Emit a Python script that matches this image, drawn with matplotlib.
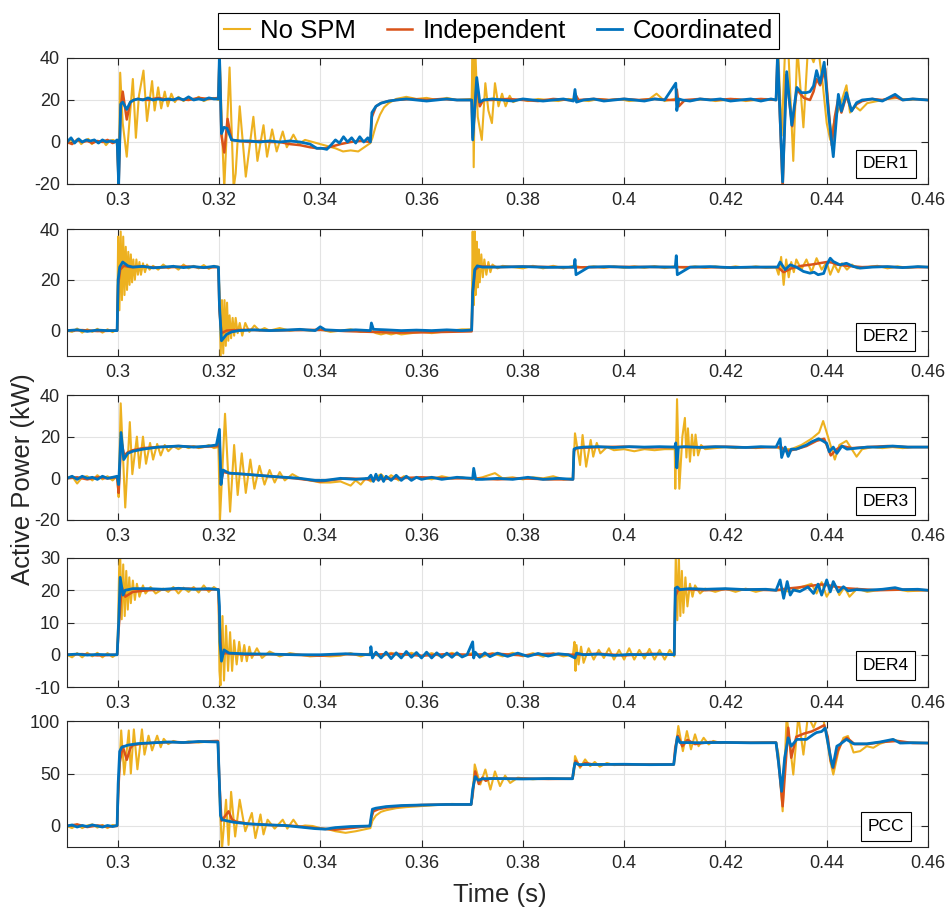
import numpy as np
import matplotlib.pyplot as plt

plt.rcParams['font.family'] = ['Liberation Sans', 'DejaVu Sans']
plt.rcParams['axes.unicode_minus'] = False

# ---- time in ms, power in kW ----

# DER1
der1_nospm_t = [290, 290.7, 291.4, 292.1, 292.8, 293.5, 294.2, 294.9, 295.6, 296.3, 297.0, 297.7, 298.4, 299.1, 299.8,
                300.0, 300.2, 300.5, 301.0, 301.8, 302.4, 303.0, 303.6, 304.2, 305.1, 305.8, 306.8, 307.3, 308.0, 308.6, 309.3, 309.9, 310.6, 311.3, 312.0,
                313, 314, 315, 316, 317, 318, 319, 319.9,
                320.1, 320.6, 321.05, 322.1, 322.9, 323.3, 324.1, 325.3, 326.8, 327.6, 328.8, 329.5, 330.5, 331.4, 332.6, 333.4, 334.7, 335.7,
                337, 338.5, 340, 341.5, 343, 344.5, 346, 347.5, 349, 349.9,
                350.3, 351.0, 351.8, 352.6, 353.5, 355, 357, 359, 361, 363, 365, 367, 369.9,
                370.1, 370.3, 370.6, 371.1, 371.9, 372.6, 373.2, 373.9, 374.5, 375.2, 375.9, 376.6, 377.4, 378.1,
                379.5, 381, 383, 385, 387, 389, 391, 393, 395, 397, 399, 401, 403, 405, 406.4, 408, 410, 412, 414, 416, 418, 420, 422, 424, 426, 428, 430.0,
                430.4, 431.1, 431.8, 432.4, 433.4, 434.2, 435.4, 436.3, 437.4, 438.3, 439.2, 440.0, 440.7, 441.6, 442.6, 443.9, 444.6, 445.6, 446.6,
                448, 450, 452, 454, 456, 458, 460]
der1_nospm = [-1, 1, -0.5, 1.5, -1, 0.5, 1.5, -1, 0.5, -0.5, 1, -1.5, 0.5, 1, 0,
              -5, -22, 33, 9, -7, 12, 30, 2, 22, 34, 10, 29, 15, 26, 16, 24, 17, 23, 19, 21.5,
              19.5, 21, 20, 21.5, 19.5, 20.5, 21, 20,
              45, 5, -22, 35.5, -22, -15, 17, -16.5, 12, -9, 8, -7, 6, -4.5, 5, -2.5, 3.5, -1,
              1, 0, -1, -2, -3, -4.5, -4, -4.5, -2, -0.5,
              2, 8, 13, 16.5, 18.5, 20.5, 21.5, 20.5, 21, 20, 21, 20, 20.5,
              45, -12, 45, 12, 1, 28, 15, 9, 28, 17, 23, 17, 22, 19,
              20.5, 19.5, 20.5, 20, 19.5, 20.5, 20, 19.5, 20.5, 20, 20.5, 19.5, 20, 20.5, 23, 19.5, 20.5, 19.5, 20, 20.5, 19.5, 20, 20.5, 19.5, 20, 20.5, 20,
              45, 3, 45, 45, -9, 45, 7, 45, 38, 45, 28, 9, 1, 11, 17, 27, 14, 17, 15,
              18.5, 19.5, 20.5, 21, 20, 20.5, 20]
der1_indep_t = [290, 291, 292, 293, 294, 295, 296, 297, 298, 299, 299.9,
                300.2, 300.6, 301.0, 301.8, 302.5, 303.2, 304, 306, 308, 310, 312, 314, 316, 318, 319.9,
                320.1, 320.5, 321.05, 321.7, 322.5, 324, 326, 328, 330, 332, 334, 336, 338, 339.5, 341, 342.5, 344, 346, 348, 349.9,
                350.2, 351, 352, 353.5, 355, 358, 361, 364, 367, 369.9,
                370.1, 370.9, 371.5, 372.2, 374, 377, 380, 383, 386, 389, 390.1, 390.3, 391, 394, 397, 400, 403, 406, 409, 410.2, 410.4, 410.8, 412, 415, 418, 421, 424, 427, 430.0,
                430.3, 431.3, 432.0, 433.2, 434.1, 435.5, 436.7, 437.4, 438.0, 438.7, 439.7, 440.3, 441.0, 441.6, 442.3, 442.9, 443.9, 444.9, 445.9,
                447, 449, 451, 453.5, 455, 457, 460]
der1_indep = [0, -1, 1, 0, 0.5, -0.5, 0.5, 0, 1, -0.5, 0.5,
              -20, 16, 24, 10.7, 19, 20, 20.5, 20, 21, 20, 20.5, 20, 21, 20.5, 21,
              40, 3, -5, 11, 1, 0.5, 0, 0.5, 0, 0, -1, -1.5, -2.5, -3, -3, -2, -1, 0, 0.5, 0,
              12, 17, 18.5, 19.5, 20, 20.5, 20, 20.5, 20, 20,
              2, 28, 17, 20, 20, 20.5, 20, 19.5, 20.5, 20, 20, 23, 20, 20.5, 20, 20.5, 20, 20.5, 20, 20, 25, 17, 20, 20.5, 20, 20.5, 20, 20.5, 20,
              42, -22, 32, 7.5, 25, 21, 20, 24, 30, 27, 35, 18, -1.5, 12, 21, 14, 22, 15, 18,
              19.5, 20.5, 20, 21.5, 20, 20.5, 20]
der1_coord_t = [290, 290.8, 291.5, 292.3, 293, 293.8, 294.6, 295.4, 296.2, 297, 297.8, 298.6, 299.4, 299.9,
                300.2, 300.6, 301.0, 301.8, 302.5, 303.2, 304, 305, 306, 307, 308, 309, 310, 311, 312, 313, 314, 315, 316, 317, 318, 319, 319.9,
                320.1, 320.5, 321.0, 321.6, 322.5, 324, 326, 328, 330, 332, 334, 336, 338, 339.3, 340.3, 341.3, 342.3, 343, 343.8, 344.6, 345.4, 346.2, 347, 347.8, 348.6, 349.4, 349.9,
                350.2, 351, 352, 353.5, 355, 357, 359, 361, 363, 365, 367, 369.9,
                370.1, 370.9, 371.5, 372.2, 374, 376, 378, 380, 382, 384, 386, 388, 390.0, 390.3, 390.6, 392, 394, 396, 398, 400,
                402, 404, 406, 408, 410.2, 410.4, 410.8, 411.5, 413, 415, 417, 419, 421, 423, 425, 427, 429, 430.0,
                430.3, 431.3, 432.1, 433.1, 434.1, 435.0, 436.0, 436.7, 437.4, 438.0, 438.7, 439.5, 440.3, 441.3, 442.3, 442.9, 443.9, 444.9, 445.9,
                447, 449, 451, 453.5, 455, 457, 460]
der1_coord = [0, 2, -0.5, 1.5, 0, 1, 0.5, 1, -0.5, 1, 0, 0.5, 0, 1,
              -20, 18, 19, 15.5, 19, 20, 20.5, 20, 21, 20, 20.5, 20, 20.5, 20, 21, 20, 21.5, 20, 20.5, 20, 21, 20.5, 20.5,
              42, 4, 7, 6.5, 1, 0.5, 0.5, 0, 0.5, 0, 0.5, 0, -1, -3, -3, -3.5, -1, 1, -0.5, 2.5, 0, 2, -0.5, 2.5, 0, 2, 0,
              14, 17, 18.5, 19.5, 20, 20.5, 20, 19.5, 20, 20.5, 20, 20,
              1, 30.7, 19, 20, 20.5, 20, 19.5, 20.5, 20, 19.5, 20, 20.5, 19.5, 25, 19, 20, 20.5, 19.5, 20, 20.5,
              20, 19.5, 20.5, 20, 28, 15, 20.5, 20, 19.5, 20.5, 20, 20.5, 19.5, 20, 20.5, 19.5, 20.5, 20,
              42, -19, 33.5, 8, 26, 23.5, 23.5, 24, 26.7, 34, 28, 38, 15, -7, 22.7, 14.7, 23.5, 14.7, 18.7,
              20, 20.5, 19.5, 22.7, 20, 20.5, 20]

# DER2
der2_nospm_t = [290, 291, 292, 293, 294, 295, 296, 297, 298, 299, 299.9,
                300.1, 300.35, 300.6, 300.85, 301.1, 301.35, 301.6, 301.85, 302.1, 302.35, 302.6, 302.85, 303.1, 303.4, 303.7, 304.0, 304.3, 304.6, 305.0, 305.4, 305.8, 306.3,
                307, 308, 309, 310, 311, 312, 313, 314, 315, 316, 317, 318, 319, 319.9,
                320.1, 320.35, 320.6, 320.85, 321.1, 321.35, 321.6, 321.85, 322.1, 322.4, 322.7, 323.0, 323.3, 323.7, 324.1, 324.6, 325.2, 326, 327, 328,
                329, 330, 332, 334, 336, 338, 340, 342, 344, 346, 348, 350, 351, 352, 353, 354, 355, 356, 358, 360, 362, 364, 366, 368, 369.9,
                370.1, 370.3, 370.5, 370.7, 370.9, 371.1, 371.3, 371.5, 371.8, 372.1, 372.4, 372.8, 373.2, 373.6, 374, 375, 376,
                378, 380, 382, 384, 386, 388, 390, 392, 394, 396, 398, 400, 402, 404, 406, 408, 410, 412, 414, 416, 418, 420, 422, 424, 426, 428, 430,
                430.5, 431.0, 431.5, 432, 432.5, 433, 433.5, 434, 435, 436, 437, 438, 439, 440, 440.7, 441.5, 442.3, 443, 444, 445, 446, 448, 450, 452, 454, 456, 458, 460]
der2_nospm = [0, -0.5, 0.8, -0.8, 0.5, -0.5, 0.7, -0.8, 0.5, -0.6, 0.5,
              37, 8, 39, 12, 37, 14, 33, 16, 31, 18, 30, 19, 28, 20, 28, 22, 27, 22, 26.5, 23, 26, 24,
              25.5, 24, 26, 24.5, 25.5, 24, 26, 24.5, 25.5, 24.5, 25.8, 24.3, 25.5, 25,
              15, -10, 12, -9, 12, -6, 11, -4, 6, -3, 5, -2, 5, -1, 3, -2, 3, -0.5, 2, 0,
              1, 0, 1, 0, 0.5, 0, 0.5, -0.5, 0, 0.5, -0.5, 0, -1, -1.5, -1, -1.5, -1, -1.5, -1, -0.5, -1, -0.5, 0, 0.5, 0.5,
              39, 10, 39, 14, 35, 17, 32, 19, 30, 21, 28, 22, 27, 23, 26, 24.5, 25.5,
              25, 24.5, 25.5, 24.5, 25.5, 24.5, 25.5, 24.8, 25.3, 24.7, 25.3, 24.7, 25.3, 24.7, 25.4, 24.6, 25.3, 24.7, 25.3, 24.7, 25.3, 24.7, 25.3, 24.7, 25.3, 24.7, 25,
              22, 29, 18, 28, 21, 27, 23, 28, 24, 28, 23, 28.5, 24, 27, 22, 26, 23, 26.5, 24, 26, 24.5, 25, 25.5, 24.5, 25.3, 24.7, 25.2, 25]
der2_indep_t = [290, 293, 296, 299.9, 300.1, 300.5, 301.2, 302.5, 305, 308, 311, 314, 317, 319.9,
                320.1, 320.5, 321.5, 323, 326, 330, 335, 340, 345, 350, 355, 360, 365, 369.9,
                370.1, 370.6, 371.5, 375, 380, 390, 400, 410, 420, 430.3,
                431.5, 433, 435, 437, 438.5, 440, 441, 442, 444, 447, 450, 455, 460]
der2_indep = [0, 0.2, -0.2, 0, 18, 24, 25.5, 25, 25.2, 24.8, 25, 25.2, 24.8, 25,
              8, -1, 0, 0.2, 0.3, 0, 0.2, 0.3, -0.2, -0.5, -0.8, -0.7, -0.5, -0.3,
              15, 24, 25.3, 25, 25.2, 24.9, 25.1, 25, 24.9, 25,
              23, 24.5, 25.5, 26, 26.5, 27, 26.8, 26, 25.5, 25, 25.2, 24.9, 25]
der2_coord_t = [290, 292, 294, 296, 298, 299.9,
                300.1, 300.4, 301.0, 302, 303, 305, 307, 309, 311, 313, 315, 317, 319, 319.9,
                320.1, 320.5, 321.5, 322.5, 324, 327, 330, 333, 336, 339, 340, 341, 344, 347, 349.9,
                350.1, 350.5, 353, 356, 359, 362, 365, 368, 369.9,
                370.1, 370.5, 371.0, 372, 375, 380, 385, 390.1, 390.3, 390.5, 393, 397, 401, 405, 410.1, 410.3, 410.5, 413, 417, 421, 425, 429,
                430.3, 430.8, 431.8, 432.8, 434, 435.4, 436.7, 437.5, 438.3, 439.4, 440.0, 440.7, 441.3, 442.6, 443.9, 445.3, 446.6, 449, 452, 455, 458, 460]
der2_coord = [0, 0.3, -0.3, 0.2, 0, 0,
              20, 25, 27, 25.5, 25, 25.3, 24.7, 25, 25.3, 24.8, 25.2, 24.8, 25.3, 25,
              10, -4, -1.5, -0.5, 0, 0.3, 0, 0.2, 0.5, 0, 1.5, 0.3, 0, 0.3, 0,
              3, 0.5, 0.3, 0, 0.2, 0, 0.3, 0, 0.2,
              15, 24, 25.5, 25, 25, 25.2, 24.9, 25, 28, 22, 25, 25.2, 24.9, 25.1, 25, 29.5, 22, 25, 25.2, 24.8, 25, 25,
              25, 27, 24, 25.9, 25, 23.3, 22.6, 23, 22, 22.5, 25.9, 28.5, 27.2, 25.9, 26.5, 25.2, 24.6, 25, 25.2, 24.8, 25.2, 25]

# DER3
der3_nospm_t = [290, 291, 292, 293, 294, 295, 296, 297, 298, 299, 299.9,
                300.2, 300.6, 301.5, 302.4, 302.9, 303.8, 304.3, 305.0, 305.6, 306.4, 307.0, 307.8, 308.5, 309.3,
                310, 311, 312, 313, 314, 315, 316, 317, 318, 319, 319.9,
                320.2, 321.2, 322.2, 323.0, 323.7, 324.5, 325.3, 326.2, 327.0, 328, 329, 330, 331, 332, 333, 334.5, 336, 338,
                340, 342, 344, 346, 347, 348, 349, 350, 351, 352, 353, 354, 355.5, 356.5, 358, 360,
                362, 364, 366, 368, 370, 372, 374.5, 376, 378, 380, 382, 384, 386, 388, 389.9,
                390.3, 391.3, 391.8, 392.5, 393.4, 393.9, 394.6, 395.3, 396.6, 398, 400, 402, 404, 406, 408, 410.0,
                410.1, 410.45, 410.9, 411.5, 412.0, 412.3, 412.6, 413.0, 413.4, 413.8, 414.1, 414.6, 415.2, 416, 418,
                420, 422, 424, 426, 428, 430, 431, 433, 435, 437, 438.5, 439.3, 440, 441.6, 442.5, 443.9, 445.9, 447, 449, 451, 453, 455, 457, 460]
der3_nospm = [0, 1, -2.5, 0.5, 1, -1, 1.5, -0.5, 1, -1, 1,
              -9, 36, -14, 27, 2, 20, 5, 20, 7, 17, 9, 16.5, 11, 16,
              13, 15.5, 14, 15.5, 14.5, 15.5, 14.5, 15, 16, 14.5, 15,
              -20, 31, -16, 16, -8, 12, -7, 9, -5, 6, -3, 4, -2, 3, -1, 2, 0, -1,
              -2, -2, -1.5, -3.5, -1, -3, 0, -1.5, 0.5, 2, -0.5, 1.5, -1, 1, 0, 0.5,
              -0.5, 1, 0, 0.5, -0.5, 0.5, 2.5, 0, 0.5, -0.5, 0.5, 0, 1, -0.5, 0,
              21.6, 6.4, 20.8, 5.6, 18.4, 10.4, 17, 12, 15, 13.5, 14, 13, 14, 13.5, 14, 14,
              -5, 38, -5, 20, 29, 10, 24, 8, 21, 11, 21, 11, 16, 14, 14.5,
              15, 14.5, 15, 14.5, 15, 15, 14, 14, 16, 19, 22, 27.5, 22, 9, 16, 18, 10.4, 14, 15, 14.5, 15, 14.5, 15, 15]
der3_indep_t = [290, 292, 294, 296, 298, 299.9, 300.2, 300.7, 301.3, 302,
                303, 305, 308, 312, 316, 319.9, 320.1, 320.4, 320.8, 322,
                325, 330, 335, 340, 345, 350, 355, 360, 365, 370,
                375, 380, 385, 389.9, 390.1, 390.5, 395, 400, 405, 410,
                415, 420, 425, 430, 431, 432, 434, 436, 438, 439.5,
                440.8, 442, 443, 445, 448, 452, 456, 460]
der3_indep = [0, 0.5, -0.5, 0.5, 0, 0.5, -7, 18, 11, 12.5,
              13.5, 14.5, 15, 15.5, 15, 15.5, 20, -2, 3, 2.5,
              2, 1, 0, -1.5, 0, -0.5, 0, 0.5, 0, 0,
              -0.5, 0, -0.5, -0.5, 13, 14.5, 15, 15.2, 14.8, 15,
              15, 15.2, 14.8, 15, 15, 13, 14, 15.5, 18, 19,
              11, 14, 15.5, 14.5, 15, 15.5, 15, 15]
der3_coord_t = [290, 291, 292, 293, 294, 295, 296, 297, 298, 299, 299.9,
                300.2, 300.66, 301.2, 302, 303, 305, 308, 312, 315, 318, 319.5,
                320.1, 320.4, 320.8, 322, 325, 330, 333, 336, 339, 341, 344, 347, 349.5,
                350, 350.5, 351, 351.5, 352, 352.5, 353, 354, 355, 356, 357, 358, 359, 360, 362, 364, 367,
                370.1, 370.3, 370.7, 372, 375, 378, 381, 384, 387, 389.9,
                390.1, 390.5, 392, 395, 398, 401, 404, 407, 410.0, 410.2, 410.4, 410.7, 412, 415, 418, 421, 424, 427, 430.0,
                430.8, 431.1, 431.8, 432.4, 433, 434, 435, 436, 437, 438.4, 439.2, 440, 440.5, 441.3, 442, 443, 444, 446, 448, 450, 453, 456, 460]
der3_coord = [0, 1, -0.5, 1, 0, 0.5, -0.5, 1, 0, 0.5, 1,
              -3, 22, 9, 12, 13, 14, 15, 15.5, 15, 15.5, 16,
              23.5, -3, 4, 2.5, 2, 1, 0.5, 0, -1, -1, 0, -0.5, 0,
              1.5, -1.5, 2, -1, 1.5, -1.5, 1, -1, 1.5, -1, 1, -1, 0.5, -0.5, 0.5, -0.5, 0.5,
              0, 4.8, -0.5, -0.5, 0, -0.5, 0.5, -0.5, 0, -0.5,
              14, 14.5, 15, 15.2, 14.8, 15.2, 15, 15.2, 15, 17, 5, 15, 15.2, 14.8, 15.2, 15, 14.8, 15.2, 15,
              19, 10, 15, 10.5, 14, 14, 15, 16, 17.5, 19, 18, 16.8, 12.8, 15, 12, 15.5, 14, 14.5, 15, 15, 15.5, 15, 15]

# DER4
der4_nospm_t = [290, 291, 292, 293, 294, 295, 296, 297, 298, 299, 299.9,
                300.1, 300.3, 300.5, 300.8, 301.1, 301.4, 301.7, 302.0, 302.3, 302.6, 303.0, 303.4, 303.8, 304.3, 305.0, 305.5, 306.5, 307.5,
                309, 310, 311, 312, 313, 314, 315, 316, 317, 318, 319, 319.9,
                320.1, 320.3, 320.7, 321.0, 321.4, 321.8, 322.2, 322.6, 323.0, 323.5, 324, 324.5, 325, 325.5, 326, 326.5, 327.5, 328.5, 330,
                332, 334, 336, 338, 340, 342, 344, 346, 348, 350, 352, 354, 356, 358, 360, 362, 364, 366, 368, 370, 372, 374, 376, 378, 380, 382, 384, 386, 388, 389.9,
                390.2, 390.4, 390.6, 391, 391.5, 392, 393, 394, 395, 396, 397, 398, 399, 400, 401, 402, 403, 404, 405, 406, 407, 408, 409, 409.9,
                410.2, 410.5, 410.8, 411.1, 411.4, 411.7, 412.1, 412.5, 413, 413.5, 414, 415, 416, 418, 420, 422, 424, 426, 428, 430,
                431, 433, 435, 437, 438, 439, 440, 441.5, 442.5, 443.5, 444.5, 446, 448, 450, 453, 456, 460]
der4_nospm = [0, -0.8, 0.5, -0.8, 0.6, -0.5, 0.6, -0.8, 0.5, -0.7, 0.3,
              10, 27, 31, 11, 28, 12, 26, 14, 24, 16, 23, 17, 22, 18, 21.5, 19, 21, 19,
              20.5, 19.5, 21, 19, 20.8, 19.5, 21, 19.3, 21.5, 19.5, 21, 20,
              -5, -9.5, 12, -8, 9, -5, 7, -5, 4.5, -3, 4, -2, 3, -2, 2.5, -1, 2, -1, 1,
              -0.5, 0.5, 0, -0.5, -0.3, -0.5, -0.3, 0.5, -0.5, 0.5, -0.6, 0.6, -0.5, 0.6, -0.5, 0.5, -0.6, 0.6, -0.5, 0.5, -0.6, 0.5, -0.5, 0.6, -0.5, 0.5, -0.6, 0.5, -0.5, 0,
              4, -5, 3, -3, 2.5, -2.5, 2, -1.5, 1.5, -1, 2, -1.5, 1.5, -1.5, 2, -1.5, 1.5, -1.2, 1.8, -1.5, 1.5, -1.5, 1.5, -0.5,
              31, 10.7, 31, 12, 26, 13, 24, 15, 22, 18, 21.5, 19, 20.5, 19.5, 20.5, 19.5, 20.5, 19.5, 20.3, 20,
              20, 19.5, 21, 22, 19, 22.5, 18, 22, 18.5, 21, 18, 20.5, 19.5, 20, 20.5, 19.7, 20]
der4_indep_t = [290, 293, 296, 299.9, 300.2, 300.8, 301.5, 303, 306, 310,
                314, 318, 319.9, 320.1, 320.5, 321, 323, 326, 330, 335,
                340, 345, 350, 355, 360, 365, 370, 375, 380, 385,
                390, 395, 400, 405, 409.9, 410.1, 410.6, 412, 416, 420,
                425, 430, 432, 434, 436, 437.5, 439, 440.5, 442, 444,
                447, 450, 455, 460]
der4_indep = [0, 0.2, -0.2, 0, 8, 21, 18, 19.5, 20, 20.3,
              20.5, 20.2, 20.3, 10, -0.5, 0.5, 0.3, 0, 0.2, 0,
              -0.3, 0.2, 0, 0.3, -0.3, 0.2, 0, 0.3, -0.2, 0.3,
              0, 0.3, -0.2, 0.3, 0, 18, 20, 20.3, 20, 20.3,
              20.2, 20, 20.5, 20.8, 21.2, 21.5, 21.8, 21.5, 21, 20.6,
              20.3, 20, 20.2, 20]
der4_coord_t = [290, 292, 294, 296, 298, 299.9, 300.2, 300.5, 301.05, 301.5, 303, 306, 309, 312, 315, 318, 319.9,
                320.1, 320.2, 320.5, 321, 322, 325, 330, 335, 340, 345, 349.9,
                350.0, 350.3, 351, 352, 353, 354, 355, 356, 357, 358, 359, 360, 361, 362, 363, 364, 365, 366, 367, 368, 369,
                370.1, 370.3, 370.6, 371.5, 372.5, 373.5, 375, 377, 379, 381, 383, 385, 387, 389,
                390.3, 390.6, 392, 395, 398, 401, 404, 407, 409.9, 410.1, 410.5, 411, 413, 416, 420, 424, 428, 430.0,
                430.8, 431.5, 432.2, 432.8, 433.4, 434.7, 436.3, 437.4, 438.3, 439.0, 440.0, 440.7, 441.3, 442.3, 443.3, 444.2, 445.9, 448, 451, 453.5, 455, 458, 460]
der4_coord = [0, 0.2, -0.1, 0.1, 0, 0, 10, 24, 18.5, 20, 20.5, 20.5, 20.3, 20.6, 20.3, 20.5, 20.2,
              15, 4, -2, 1.5, 0.5, 0.3, 0.2, 0, 0, 0.3, 0,
              2.5, -1, 0.8, -1, 0.8, -1.2, 0.6, -1, 1, -0.8, 0.7, -1, 0.8, -1, 0.6, -0.8, 0.5, -0.8, 0.6, -0.7, 0,
              4, -1, 0.8, -0.8, 0.6, -0.6, 0.5, -0.5, 0.5, -0.5, 0.4, -0.4, 0.3, 0,
              -1, 0.5, 0, 0.2, -0.2, 0.1, 0, 0.2, 0, 20.6, 21, 20.2, 20.5, 20.3, 20.5, 20.2, 20.3, 20,
              23.2, 17.5, 22.7, 18.5, 20.1, 19.6, 21, 19, 21.9, 18.5, 23.2, 19.5, 22.7, 19.5, 21.1, 19.8, 20.2, 20, 20.3, 20.8, 20.2, 20.3, 20]

# PCC
pcc_nospm_t = [290, 291, 292, 293, 294, 295, 296, 297, 298, 299, 299.9,
               300.1, 300.7, 301.3, 302.2, 302.6, 303.2, 303.9, 304.8, 305.3, 306.1, 306.8, 307.8, 308.5, 309.1, 310, 311, 312.5, 314, 316, 318, 319.8,
               320.1, 320.6, 321.4, 321.9, 322.4, 323.2, 324.1, 325.2, 326.5, 327.2, 328.2, 328.8, 329.6, 331.0, 332.6, 333.5, 334.7, 335.7,
               337, 338.5, 340, 341.5, 343, 345, 347, 349, 349.9,
               350.3, 351, 352, 353, 355, 357, 360, 363, 366, 369.8,
               370.1, 370.5, 371.6, 372.6, 373.6, 374.5, 375.5, 376.5, 377.5, 379, 382, 385, 388, 389.8,
               390.1, 390.3, 391.3, 392.3, 393.3, 394.2, 395.2, 396.6, 398, 401, 404, 407, 409.8,
               410.2, 410.7, 411.6, 412.4, 413.2, 414.0, 414.7, 415.7, 416.7, 417.6, 419, 422, 425, 428, 430.0,
               430.5, 431.3, 432.1, 433.4, 434.4, 435.4, 436.3, 437.4, 438.3, 439.4, 440.0, 440.7, 441.3, 442.3, 443.3, 444.2, 445.3, 446.6, 447.9, 449.2, 450.5, 453.1, 455, 457, 460]
pcc_nospm = [0, -2, 1.5, -2, 0.5, 1.5, -1.5, 1, -2, 1, 0,
             30, 91, 49, 91, 50, 92, 54, 92, 68, 86, 72, 86, 75, 83, 78, 81, 79, 80.5, 79.5, 80.5, 80,
             30, -22, 25, -18, 32.5, -10, 25, -5, 12.4, -11.5, 11, -8, 6, -2.5, 6, -2.5, 6, -1,
             0.5, 0, -2, -3, -5, -6.5, -5, -3, -2,
             5, 10, 13.5, 15, 17, 18, 19, 20, 21, 20.5,
             30, 58.6, 39.5, 53.8, 34.7, 52, 38, 48, 41, 46, 44.5, 45.5, 45, 45,
             50, 66.6, 55.4, 63.4, 57, 61, 56.5, 60, 58, 58.8, 58.4, 58.6, 58.5,
             75, 95.2, 71.3, 90.4, 73, 87.3, 76, 84, 77.7, 81, 79, 79.5, 79.2, 79.5, 79.3,
             68, 14, 105, 49, 105, 68, 105, 93.6, 105, 100, 85, 62, 49, 71, 84, 85.7, 70, 71.3, 76, 74.5, 78.3, 82.5, 79, 79.5, 79]
pcc_indep_t = [290, 292, 294, 296, 298, 299.9,
               300.1, 300.4, 301.0, 301.8, 302.5, 303, 305, 308, 311, 314, 317, 319.8,
               320.1, 320.5, 321.0, 321.9, 322.6, 323.5, 326, 330, 335, 340, 343, 346, 349.8,
               350.1, 350.5, 351.5, 353, 356, 360, 365, 369.8,
               370.1, 370.6, 371.3, 372, 372.7, 373.5, 375, 380, 385, 389.8,
               390.1, 390.4, 391.3, 392.3, 394, 397, 400, 405, 409.8,
               410.1, 410.6, 411.5, 412.5, 414, 417, 420, 425, 430.0,
               430.5, 431.3, 432.4, 433.0, 434.0, 435.5, 437.0, 438.3, 439.5, 440.2, 440.8, 441.3, 442.2, 443, 444, 445.5, 448, 451, 454, 457, 460]
pcc_indep = [0, 1.5, -1, 0.5, -0.5, 0,
             30, 60, 76, 63, 74, 77, 78.5, 79.5, 80, 79.5, 80.5, 81,
             40, 5, 8, 14, 6, 4, 2, 1, 0, -2.5, -3.5, -2, 0,
             8, 14, 16, 17.5, 19, 20, 20.5, 20.5,
             30, 52, 40, 46, 43, 45.5, 45, 45.2, 44.8, 45,
             55, 62, 57, 60, 58.5, 58.8, 58.4, 58.6, 58.6,
             75, 86, 76, 82, 78, 80, 79.5, 79.3, 79.5,
             60, 18.8, 93.6, 65, 85, 88, 90, 93, 96, 85, 62, 55, 72, 80, 84, 78, 78, 80, 81, 79, 79]
pcc_coord_t = [290, 291, 292, 293, 294, 295, 296, 297, 298, 299, 299.9,
               300.1, 300.4, 300.8, 302, 304, 306, 308, 310, 313, 316, 319.8,
               320.1, 320.3, 320.6, 321.5, 323, 326, 330, 333, 336, 339, 341, 343, 346, 349.8,
               350.1, 350.3, 351, 353, 356, 360, 365, 369.8,
               370.1, 370.6, 371.2, 372, 375, 380, 385, 389.8,
               390.1, 390.3, 391, 395, 400, 405, 409.8,
               410.1, 410.5, 411, 415, 420, 425, 430.0,
               430.5, 431.1, 431.7, 432.4, 433.0, 434.1, 436.0, 437.4, 438.0, 439.0, 439.7, 440.7, 441.2, 442.0, 442.6, 443.9, 445.3, 447.9, 450.5, 453.1, 454.5, 457, 460]
pcc_coord = [0, 1, -1, 0.5, -0.5, 1, 0, -1, 0.5, -0.5, 0.5,
             40, 71, 75, 77, 78.5, 79, 79.5, 80, 79.5, 80.5, 80,
             40, 10, 6, 5, 3.5, 2, 1, 0.5, -1, -2.5, -3, -1.5, -0.5, 0,
             10, 16, 17, 18.5, 19.5, 20, 20.5, 20.5,
             35, 47, 43.5, 45, 45.2, 44.8, 45.2, 45,
             55, 60, 58.5, 58.6, 58.8, 58.4, 58.6,
             70, 84.7, 79.5, 79.3, 79.6, 79.2, 79.3,
             60, 33, 65, 84, 76, 82.5, 82.5, 87.3, 89, 90, 93.3, 67, 56, 76, 77.7, 82.5, 78.3, 78.3, 80, 82.5, 79, 79.3, 79]

series_names = ['No SPM', 'Independent', 'Coordinated']
series_colors = ['#EDB120', '#D95319', '#0072BD']
series_widths = [1.5, 1.8, 2.0]

panel_names = ['DER1', 'DER2', 'DER3', 'DER4', 'PCC']
panel_ylims = [(-20, 40), (-10, 40), (-20, 40), (-10, 30), (-20, 100)]
panel_yticks = [[-20, 0, 20, 40], [0, 20, 40], [-20, 0, 20, 40],
                [-10, 0, 10, 20, 30], [0, 50, 100]]
panel_data = [
    [(der1_nospm_t, der1_nospm), (der1_indep_t, der1_indep), (der1_coord_t, der1_coord)],
    [(der2_nospm_t, der2_nospm), (der2_indep_t, der2_indep), (der2_coord_t, der2_coord)],
    [(der3_nospm_t, der3_nospm), (der3_indep_t, der3_indep), (der3_coord_t, der3_coord)],
    [(der4_nospm_t, der4_nospm), (der4_indep_t, der4_indep), (der4_coord_t, der4_coord)],
    [(pcc_nospm_t, pcc_nospm), (pcc_indep_t, pcc_indep), (pcc_coord_t, pcc_coord)],
]
xticks = [0.30, 0.32, 0.34, 0.36, 0.38, 0.40, 0.42, 0.44, 0.46]

W, H = 947, 909
fig = plt.figure(figsize=(W / 100, H / 100), dpi=100)

# panel rows in pixels: (top, bottom)
rows = [(58, 184), (229, 356), (395, 520), (558, 687), (721, 847)]
left_px, right_px = 67, 928
label_ypos = [0.159, 0.15, 0.152, 0.167, 0.163]

axes = []
for i, (top, bot) in enumerate(rows):
    ax = fig.add_axes([left_px / W, 1 - bot / H, (right_px - left_px) / W, (bot - top) / H])
    for (t, v), col, lw, name in zip(panel_data[i], series_colors, series_widths, series_names):
        ax.plot(np.array(t) / 1000.0, v, color=col, lw=lw, label=name, solid_joinstyle='round')
    ax.set_xlim(0.29, 0.46)
    ax.set_ylim(*panel_ylims[i])
    ax.set_xticks(xticks)
    ax.set_xticklabels(['%g' % x for x in xticks])
    ax.set_yticks(panel_yticks[i])
    ax.grid(True, color='#e3e3e3', lw=0.8)
    ax.set_axisbelow(True)
    ax.tick_params(direction='in', length=5, width=0.8, top=True, right=True,
                   labelsize=13, colors='#262626', pad=6)
    ax.tick_params(axis='y', pad=5)
    for s in ax.spines.values():
        s.set_color('#262626')
        s.set_linewidth(0.8)
    ax.text(0.951, label_ypos[i], panel_names[i], transform=ax.transAxes,
            ha='center', va='center', fontsize=12.5, zorder=10,
            bbox=dict(boxstyle='square,pad=0.38', fc='white', ec='black', lw=0.8))
    axes.append(ax)

handles, labels = axes[0].get_legend_handles_labels()
leg = fig.legend(handles, labels, loc='center', bbox_to_anchor=(498.5 / W, 1 - 31 / H),
                 ncol=3, fontsize=18.5, handlelength=1.0, handletextpad=0.4,
                 columnspacing=1.2, borderpad=0.25, fancybox=False, framealpha=1)
leg.get_frame().set_edgecolor('black')
leg.get_frame().set_linewidth(0.8)

fig.text(23 / W, 1 - 479 / H, 'Active Power (kW)', rotation=90, ha='center', va='center',
         fontsize=18.5, color='#262626')
fig.text(500 / W, 1 - 895 / H, 'Time (s)', ha='center', va='center',
         fontsize=18.5, color='#262626')

fig.savefig('out.png', dpi=100)
